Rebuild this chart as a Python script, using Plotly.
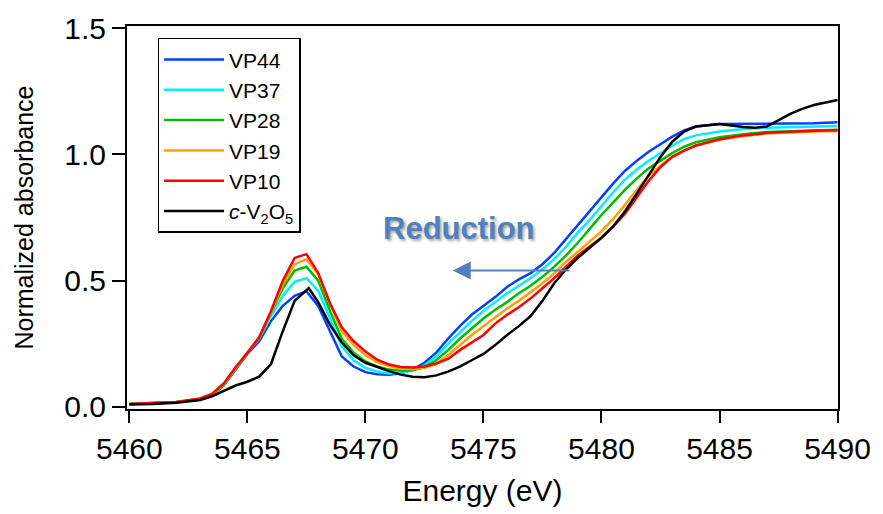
import plotly.graph_objects as go

energy = [5460, 5461, 5462, 5463, 5463.5, 5464, 5464.5, 5465, 5465.5, 5466, 5466.5,
          5467, 5467.5, 5468, 5468.5, 5469, 5469.5, 5470, 5470.5, 5471, 5471.5,
          5472, 5472.5, 5473, 5473.5, 5474, 5474.5, 5475, 5475.5, 5476, 5476.5,
          5477, 5477.5, 5478, 5478.5, 5479, 5479.5, 5480, 5480.5, 5481, 5481.5,
          5482, 5482.5, 5483, 5483.5, 5484, 5485, 5486, 5487, 5488, 5489, 5490]

vp44 = [0.012, 0.015, 0.02, 0.03, 0.045, 0.085, 0.15, 0.21, 0.26, 0.34, 0.40,
        0.44, 0.458, 0.40, 0.30, 0.20, 0.16, 0.138, 0.13, 0.128, 0.133,
        0.148, 0.175, 0.215, 0.27, 0.32, 0.365, 0.40, 0.435, 0.475, 0.505,
        0.53, 0.565, 0.61, 0.665, 0.72, 0.775, 0.83, 0.885, 0.935, 0.975,
        1.01, 1.04, 1.07, 1.095, 1.11, 1.12, 1.12, 1.12, 1.12, 1.123, 1.127]

vp37 = [0.012, 0.015, 0.02, 0.031, 0.048, 0.088, 0.153, 0.215, 0.27, 0.36, 0.44,
        0.495, 0.51, 0.46, 0.35, 0.24, 0.185, 0.155, 0.14, 0.133, 0.135,
        0.145, 0.165, 0.20, 0.25, 0.295, 0.34, 0.38, 0.415, 0.45, 0.48,
        0.51, 0.545, 0.585, 0.635, 0.69, 0.74, 0.795, 0.85, 0.90, 0.94,
        0.975, 1.005, 1.035, 1.06, 1.075, 1.09, 1.10, 1.105, 1.108, 1.11, 1.112]

vp28 = [0.012, 0.015, 0.02, 0.032, 0.05, 0.09, 0.155, 0.215, 0.275, 0.37, 0.47,
        0.54, 0.555, 0.50, 0.38, 0.27, 0.215, 0.18, 0.16, 0.148, 0.143,
        0.145, 0.158, 0.185, 0.225, 0.27, 0.31, 0.35, 0.385, 0.415, 0.45,
        0.48, 0.515, 0.555, 0.60, 0.65, 0.705, 0.76, 0.81, 0.86, 0.905,
        0.945, 0.975, 1.005, 1.03, 1.048, 1.068, 1.08, 1.088, 1.092, 1.095, 1.097]

vp19 = [0.012, 0.015, 0.02, 0.033, 0.051, 0.092, 0.156, 0.215, 0.275, 0.375, 0.485,
        0.565, 0.585, 0.525, 0.41, 0.30, 0.245, 0.205, 0.178, 0.162, 0.152,
        0.15, 0.155, 0.17, 0.205, 0.245, 0.285, 0.32, 0.355, 0.39, 0.42,
        0.455, 0.49, 0.53, 0.575, 0.615, 0.655, 0.695, 0.745, 0.80, 0.86,
        0.915, 0.955, 0.99, 1.015, 1.035, 1.058, 1.073, 1.082, 1.087, 1.09, 1.092]

vp10 = [0.012, 0.015, 0.02, 0.034, 0.052, 0.093, 0.157, 0.215, 0.275, 0.38, 0.50,
        0.59, 0.605, 0.53, 0.41, 0.315, 0.26, 0.22, 0.187, 0.168, 0.158,
        0.156, 0.16, 0.172, 0.19, 0.225, 0.255, 0.285, 0.33, 0.365, 0.395,
        0.43, 0.47, 0.51, 0.555, 0.60, 0.635, 0.67, 0.715, 0.765, 0.83,
        0.895, 0.95, 0.99, 1.015, 1.035, 1.06, 1.075, 1.085, 1.09, 1.093, 1.095]

energy_ref = [5460, 5461, 5462, 5463, 5463.5, 5464, 5464.5, 5465, 5465.5, 5466, 5466.5,
              5467, 5467.6, 5468, 5468.5, 5469, 5469.5, 5470, 5470.5, 5471, 5471.5,
              5472, 5472.5, 5473, 5473.5, 5474, 5474.5, 5475, 5475.5, 5476, 5476.5,
              5477, 5477.5, 5478, 5478.5, 5479, 5479.5, 5480, 5480.5, 5481, 5481.5,
              5482, 5482.5, 5483, 5483.5, 5484, 5485, 5486, 5486.5, 5487, 5487.5,
              5488, 5488.5, 5489, 5490]

v2o5 = [0.01, 0.012, 0.017, 0.028, 0.042, 0.063, 0.085, 0.10, 0.12, 0.17, 0.30,
        0.42, 0.47, 0.415, 0.325, 0.255, 0.205, 0.175, 0.158, 0.142, 0.128,
        0.12, 0.118, 0.125, 0.14, 0.16, 0.185, 0.21, 0.245, 0.285, 0.32,
        0.36, 0.42, 0.49, 0.545, 0.59, 0.63, 0.67, 0.715, 0.775, 0.845,
        0.92, 0.99, 1.05, 1.09, 1.11, 1.12, 1.108, 1.105, 1.11, 1.135,
        1.16, 1.18, 1.195, 1.215]

x_ticks = [5460, 5465, 5470, 5475, 5480, 5485, 5490]
y_ticks = [0.0, 0.5, 1.0, 1.5]

series = [
    ("VP44", energy, vp44, "rgb(0,64,255)"),
    ("VP37", energy, vp37, "rgb(0,240,255)"),
    ("VP28", energy, vp28, "rgb(0,190,0)"),
    ("VP19", energy, vp19, "rgb(255,160,0)"),
    ("VP10", energy, vp10, "rgb(255,0,0)"),
    ("<i>c</i>-V<sub>2</sub>O<sub>5</sub>", energy_ref, v2o5, "black"),
]

fig = go.Figure()
for name, xs, ys, col in series:
    fig.add_trace(go.Scatter(x=xs, y=ys, mode="lines", name=name,
                             line=dict(color=col, width=2.5)))

font_family = "Liberation Sans, Arial, sans-serif"
fig.update_layout(
    width=883, height=514,
    margin=dict(l=127, r=42, t=22, b=105),
    paper_bgcolor="white", plot_bgcolor="white",
    font=dict(family=font_family, color="black", size=24),
    showlegend=True,
    legend=dict(x=0.043, y=0.969, xanchor="left", yanchor="top",
                bordercolor="black", borderwidth=1.5, bgcolor="white",
                font=dict(size=21, color="black"), tracegroupgap=0, itemwidth=60),
)
fig.update_xaxes(range=[5459.9, 5490.02], tickvals=x_ticks,
                 ticks="outside", ticklen=12, tickwidth=2, tickcolor="black",
                 showline=True, linewidth=2, linecolor="black", mirror=True,
                 showgrid=False, zeroline=False,
                 title=dict(text="Energy (eV)", font=dict(size=30), standoff=16),
                 tickfont=dict(size=30))
fig.update_yaxes(range=[-0.008, 1.508], tickvals=y_ticks, tickformat=".1f",
                 ticks="outside", ticklen=13, tickwidth=2, tickcolor="black",
                 showline=True, linewidth=2, linecolor="black", mirror=True,
                 showgrid=False, zeroline=False,
                 title=dict(text="Normalized absorbance", font=dict(size=25), standoff=24),
                 tickfont=dict(size=30))

fig.add_annotation(x=5473.7, y=0.54, ax=5478.7, ay=0.54, xref="x", yref="y",
                   axref="x", ayref="y", text="", showarrow=True,
                   arrowhead=2, arrowsize=1.8, arrowwidth=2, arrowcolor="#4f81bd")
fig.add_annotation(x=5473.95, y=0.705, xref="x", yref="y", text="<b>Reduction</b>",
                   showarrow=False,
                   font=dict(size=31, color="#4f81bd", family=font_family,
                             shadow="2px 2px 3px rgba(0,0,0,0.35)"))

fig.write_html("out.html")
